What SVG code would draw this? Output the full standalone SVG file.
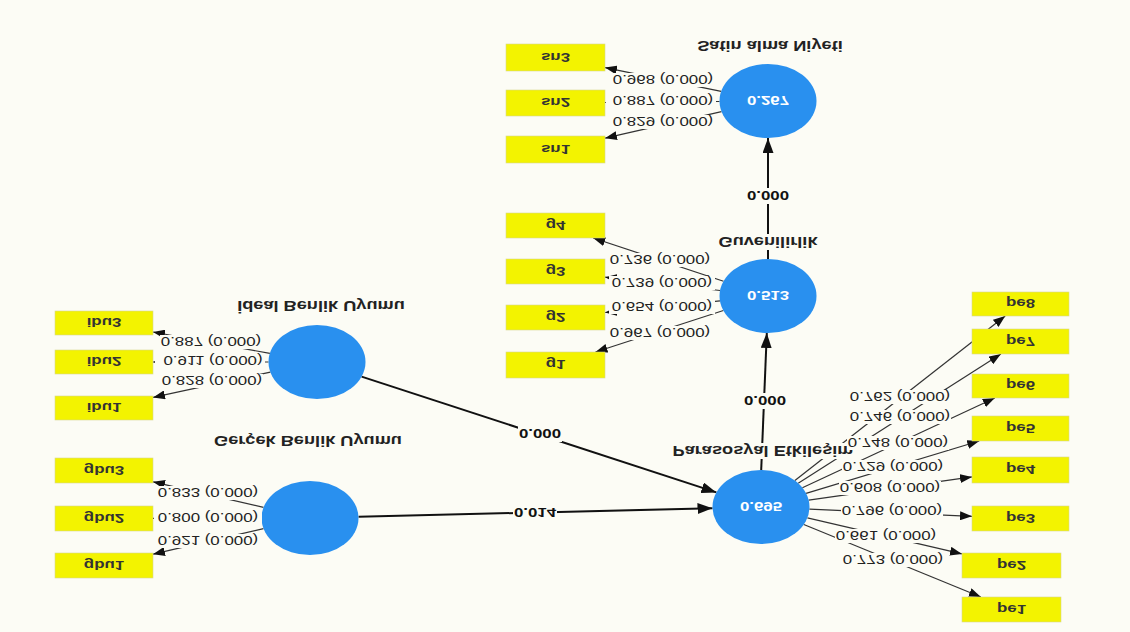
<svg xmlns="http://www.w3.org/2000/svg" width="1130" height="632" viewBox="0 0 1130 632">
<style>
.bg{fill:#fcfcf5}
.ind{stroke:#333;stroke-width:1.2;fill:none;marker-end:url(#ah)}
.str{stroke:#111;stroke-width:2;fill:none;marker-end:url(#ahb)}
.lv{fill:#2990ef}
.box{fill:#f3f300;stroke:#d8d890;stroke-width:0.6}
text{font-family:"Liberation Sans",Arial,sans-serif;text-anchor:middle;dominant-baseline:central}
.ld{font-size:13px;fill:#222}
.pc{font-size:13px;font-weight:bold;fill:#111}
.nm{font-size:14px;font-weight:bold;fill:#222}
.r2{font-size:13px;font-weight:bold;fill:#fff}
.bl{font-size:13px;font-weight:bold;fill:#333}
</style>
<defs>
<marker id="ah" markerUnits="userSpaceOnUse" markerWidth="12" markerHeight="9" refX="12" refY="4.5" orient="auto"><path d="M0,0 L12,4.5 L0,9 z" fill="#111"/></marker>
<marker id="ahb" markerUnits="userSpaceOnUse" markerWidth="15" markerHeight="11" refX="15" refY="5.5" orient="auto"><path d="M0,0 L15,5.5 L0,11 z" fill="#111"/></marker>
</defs>
<rect class="bg" x="0" y="0" width="1130" height="632"/>

<g id="connectors">
<line class="str" x1="761.2" y1="470" x2="766.8" y2="333"/>
<line class="str" x1="768" y1="259" x2="768" y2="138"/>
<line class="str" x1="361.6" y1="376.6" x2="716.4" y2="492.4"/>
<line class="str" x1="358.5" y1="516.8" x2="712.5" y2="508.2"/>

<line class="ind" x1="721.2" y1="91.4" x2="605" y2="67.6"/>
<line class="ind" x1="719.5" y1="101.5" x2="605" y2="102.5"/>
<line class="ind" x1="721.5" y1="111.6" x2="605" y2="138.2"/>

<line class="ind" x1="723.5" y1="281.2" x2="593.2" y2="238"/>
<line class="ind" x1="720" y1="290.5" x2="605" y2="277.2"/>
<line class="ind" x1="720" y1="300.9" x2="605" y2="312.5"/>
<line class="ind" x1="723.4" y1="310.5" x2="595.5" y2="352"/>

<line class="ind" x1="269.9" y1="353.4" x2="153" y2="332"/>
<line class="ind" x1="268.5" y1="362" x2="153" y2="362"/>
<line class="ind" x1="270.4" y1="372.1" x2="153" y2="397.4"/>

<line class="ind" x1="263.5" y1="507.3" x2="153" y2="481.8"/>
<line class="ind" x1="261.5" y1="518" x2="153" y2="518.4"/>
<line class="ind" x1="263.5" y1="528.7" x2="153" y2="554.2"/>

<line class="ind" x1="794.9" y1="480.5" x2="1005.2" y2="316"/>
<line class="ind" x1="798.2" y1="483.3" x2="1000.9" y2="354"/>
<line class="ind" x1="802.4" y1="487.7" x2="994.8" y2="398"/>
<line class="ind" x1="806.1" y1="493.4" x2="979.2" y2="441"/>
<line class="ind" x1="808.7" y1="500.2" x2="972" y2="476.9"/>
<line class="ind" x1="809.4" y1="509.1" x2="972" y2="516.3"/>
<line class="ind" x1="807.4" y1="517.8" x2="962" y2="553.9"/>
<line class="ind" x1="803.8" y1="524.5" x2="980.9" y2="597"/>
</g>

<g id="node-satin-alma-niyeti">
<rect class="bg" x="694" y="38" width="152" height="16"/>
<text class="nm" transform="matrix(1.3 0 0 -1 770 46)">Satin alma Niyeti</text>
<ellipse class="lv" cx="768" cy="101" rx="48.5" ry="37"/>
<text class="r2" transform="matrix(1.3 0 0 -1 768 101)">0.267</text>
</g>
<g id="node-guvenilirlik">
<rect class="bg" x="720" y="234" width="98" height="16"/>
<text class="nm" transform="matrix(1.3 0 0 -1 768 242)">Guvenilirlik</text>
<ellipse class="lv" cx="768" cy="296" rx="48.5" ry="37"/>
<text class="r2" transform="matrix(1.3 0 0 -1 768 296)">0.513</text>
</g>
<g id="node-parasosyal-etkilesim">
<rect class="bg" x="670" y="443" width="184" height="16"/>
<text class="nm" transform="matrix(1.3 0 0 -1 763 451)">Parasosyal Etkileşim</text>
<ellipse class="lv" cx="761" cy="507" rx="48.5" ry="37"/>
<text class="r2" transform="matrix(1.3 0 0 -1 761 507)">0.695</text>
</g>
<g id="node-ideal-benlik-uyumu">
<text class="nm" transform="matrix(1.3 0 0 -1 321 306)">İdeal Benlik Uyumu</text>
<ellipse class="lv" cx="317" cy="362" rx="48.5" ry="37"/>
</g>
<g id="node-gercek-benlik-uyumu">
<text class="nm" transform="matrix(1.3 0 0 -1 308 441)">Gerçek Benlik Uyumu</text>
<ellipse class="lv" cx="310" cy="518" rx="48.5" ry="37"/>
</g>

<g id="node-sn3"><rect class="box" x="506" y="44" width="99" height="27"/><text class="bl" transform="matrix(1.3 0 0 -1 555.5 57.5)">sn3</text></g>
<g id="node-sn2"><rect class="box" x="506" y="90" width="99" height="26"/><text class="bl" transform="matrix(1.3 0 0 -1 555.5 103)">sn2</text></g>
<g id="node-sn1"><rect class="box" x="506" y="136" width="99" height="27"/><text class="bl" transform="matrix(1.3 0 0 -1 555.5 149.5)">sn1</text></g>

<g id="node-g4"><rect class="box" x="506" y="213" width="99" height="25"/><text class="bl" transform="matrix(1.3 0 0 -1 555.5 225.5)">g4</text></g>
<g id="node-g3"><rect class="box" x="506" y="259" width="99" height="25"/><text class="bl" transform="matrix(1.3 0 0 -1 555.5 271.5)">g3</text></g>
<g id="node-g2"><rect class="box" x="506" y="305" width="99" height="25"/><text class="bl" transform="matrix(1.3 0 0 -1 555.5 317.5)">g2</text></g>
<g id="node-g1"><rect class="box" x="506" y="352" width="99" height="26"/><text class="bl" transform="matrix(1.3 0 0 -1 555.5 365)">g1</text></g>

<g id="node-ibu3"><rect class="box" x="55" y="311" width="98" height="24"/><text class="bl" transform="matrix(1.3 0 0 -1 104 323)">ibu3</text></g>
<g id="node-ibu2"><rect class="box" x="55" y="350" width="98" height="24"/><text class="bl" transform="matrix(1.3 0 0 -1 104 362)">ibu2</text></g>
<g id="node-ibu1"><rect class="box" x="55" y="396" width="98" height="24"/><text class="bl" transform="matrix(1.3 0 0 -1 104 408)">ibu1</text></g>

<g id="node-gbu3"><rect class="box" x="55" y="458" width="98" height="25"/><text class="bl" transform="matrix(1.3 0 0 -1 104 470.5)">gbu3</text></g>
<g id="node-gbu2"><rect class="box" x="55" y="506" width="98" height="25"/><text class="bl" transform="matrix(1.3 0 0 -1 104 518.5)">gbu2</text></g>
<g id="node-gbu1"><rect class="box" x="55" y="553" width="98" height="25"/><text class="bl" transform="matrix(1.3 0 0 -1 104 565.5)">gbu1</text></g>

<g id="node-pe8"><rect class="box" x="972" y="292" width="97" height="24"/><text class="bl" transform="matrix(1.3 0 0 -1 1020.5 304)">pe8</text></g>
<g id="node-pe7"><rect class="box" x="972" y="329" width="97" height="25"/><text class="bl" transform="matrix(1.3 0 0 -1 1020.5 341.5)">pe7</text></g>
<g id="node-pe6"><rect class="box" x="972" y="374" width="97" height="24"/><text class="bl" transform="matrix(1.3 0 0 -1 1020.5 386)">pe6</text></g>
<g id="node-pe5"><rect class="box" x="972" y="416" width="97" height="25"/><text class="bl" transform="matrix(1.3 0 0 -1 1020.5 428.5)">pe5</text></g>
<g id="node-pe4"><rect class="box" x="972" y="457" width="97" height="26"/><text class="bl" transform="matrix(1.3 0 0 -1 1020.5 470)">pe4</text></g>
<g id="node-pe3"><rect class="box" x="972" y="506" width="97" height="25"/><text class="bl" transform="matrix(1.3 0 0 -1 1020.5 518.5)">pe3</text></g>
<g id="node-pe2"><rect class="box" x="962" y="553" width="99" height="25"/><text class="bl" transform="matrix(1.3 0 0 -1 1011.5 565.5)">pe2</text></g>
<g id="node-pe1"><rect class="box" x="962" y="597" width="99" height="25"/><text class="bl" transform="matrix(1.3 0 0 -1 1011.5 609.5)">pe1</text></g>

<g id="connector-labels">
<rect class="bg" x="744" y="393" width="44" height="16"/>
<text class="pc" transform="matrix(1.3 0 0 -1 765 401)">0.000</text>
<rect class="bg" x="746" y="188" width="44" height="16"/>
<text class="pc" transform="matrix(1.3 0 0 -1 768 196)">0.000</text>
<rect class="bg" x="518" y="426" width="44" height="16"/>
<text class="pc" transform="matrix(1.3 0 0 -1 540 434)">0.000</text>
<rect class="bg" x="513" y="505" width="44" height="16"/>
<text class="pc" transform="matrix(1.3 0 0 -1 535 513)">0.014</text>

<rect class="bg" x="612" y="73" width="102" height="14"/>
<text class="ld" transform="matrix(1.3 0 0 -1 663 80)">0.968 (0.000)</text>
<rect class="bg" x="606" y="94" width="110" height="14"/>
<text class="ld" transform="matrix(1.3 0 0 -1 663 101)">0.887 (0.000)</text>
<rect class="bg" x="612" y="115" width="102" height="14"/>
<text class="ld" transform="matrix(1.3 0 0 -1 663 122)">0.829 (0.000)</text>

<rect class="bg" x="609" y="253" width="102" height="14"/>
<text class="ld" transform="matrix(1.3 0 0 -1 660 260)">0.736 (0.000)</text>
<rect class="bg" x="609" y="276" width="106" height="14"/>
<text class="ld" transform="matrix(1.3 0 0 -1 662 283)">0.739 (0.000)</text>
<rect class="bg" x="609" y="300" width="106" height="14"/>
<text class="ld" transform="matrix(1.3 0 0 -1 662 307)">0.654 (0.000)</text>
<rect class="bg" x="609" y="326" width="102" height="14"/>
<text class="ld" transform="matrix(1.3 0 0 -1 660 333)">0.967 (0.000)</text>

<rect class="bg" x="160" y="335" width="102" height="14"/>
<text class="ld" transform="matrix(1.3 0 0 -1 211 342)">0.887 (0.000)</text>
<rect class="bg" x="155" y="354" width="110" height="14"/>
<text class="ld" transform="matrix(1.3 0 0 -1 213 361)">0.911 (0.000)</text>
<rect class="bg" x="161" y="374" width="102" height="14"/>
<text class="ld" transform="matrix(1.3 0 0 -1 212 381)">0.828 (0.000)</text>

<rect class="bg" x="157" y="486" width="102" height="14"/>
<text class="ld" transform="matrix(1.3 0 0 -1 208 493)">0.833 (0.000)</text>
<rect class="bg" x="154" y="511" width="108" height="14"/>
<text class="ld" transform="matrix(1.3 0 0 -1 208 518)">0.800 (0.000)</text>
<rect class="bg" x="157" y="534" width="102" height="14"/>
<text class="ld" transform="matrix(1.3 0 0 -1 208 541)">0.921 (0.000)</text>

<rect class="bg" x="849" y="390" width="102" height="14"/>
<text class="ld" transform="matrix(1.3 0 0 -1 900 397)">0.762 (0.000)</text>
<rect class="bg" x="849" y="410" width="102" height="14"/>
<text class="ld" transform="matrix(1.3 0 0 -1 900 417)">0.746 (0.000)</text>
<rect class="bg" x="847" y="436" width="102" height="14"/>
<text class="ld" transform="matrix(1.3 0 0 -1 898 443)">0.748 (0.000)</text>
<rect class="bg" x="842" y="460" width="102" height="14"/>
<text class="ld" transform="matrix(1.3 0 0 -1 893 467)">0.729 (0.000)</text>
<rect class="bg" x="839" y="481" width="102" height="14"/>
<text class="ld" transform="matrix(1.3 0 0 -1 890 488)">0.608 (0.000)</text>
<rect class="bg" x="841" y="504" width="102" height="14"/>
<text class="ld" transform="matrix(1.3 0 0 -1 892 511)">0.796 (0.000)</text>
<rect class="bg" x="835" y="529" width="102" height="14"/>
<text class="ld" transform="matrix(1.3 0 0 -1 886 536)">0.661 (0.000)</text>
<rect class="bg" x="842" y="553" width="102" height="14"/>
<text class="ld" transform="matrix(1.3 0 0 -1 893 560)">0.773 (0.000)</text>
</g>
</svg>
